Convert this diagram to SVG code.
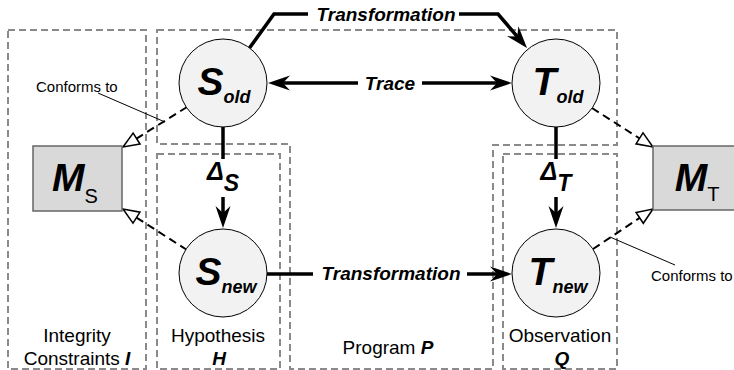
<svg xmlns="http://www.w3.org/2000/svg" width="734" height="370" viewBox="0 0 734 370">
<style>
.zone{fill:none;stroke:#8a8a8a;stroke-width:2;stroke-dasharray:7 4}
.node{fill:#f2f2f2;stroke:#000;stroke-width:1}
.meta{fill:#d9d9d9;stroke:#666;stroke-width:1.5}
.flow{fill:none;stroke:#000;stroke-width:3.5}
.conf{fill:none;stroke:#000;stroke-width:2;stroke-dasharray:8 5}
.call{fill:none;stroke:#000;stroke-width:1}
.lbg{fill:#fff;stroke:none}
text{font-family:"Liberation Sans",Arial,sans-serif;fill:#000}
.bi{font-weight:bold;font-style:italic}
.lab{font-size:19px}
.small{font-size:15px}
</style>
<defs>
<marker id="head" markerUnits="userSpaceOnUse" viewBox="0 0 22 16" refX="16" refY="8" markerWidth="22" markerHeight="16" orient="auto-start-reverse">
<path d="M0,0.5 L22,8 L0,15.5 L7,8 z" fill="#000"/>
</marker>
<marker id="tri" markerUnits="userSpaceOnUse" viewBox="0 0 19 16" refX="17.5" refY="8" markerWidth="19" markerHeight="16" orient="auto">
<path d="M1.5,1.5 L17.5,8 L1.5,14.5 z" fill="#fff" stroke="#000" stroke-width="1.5"/>
</marker>
</defs>
<g id="zones">
<rect class="zone" x="8" y="30" width="138" height="339"/>
<path class="zone" d="M157,30 H617 V145 H493 V369 H290 V144 H157 Z"/>
<rect class="zone" x="157" y="154" width="123" height="215"/>
<rect class="zone" x="503" y="154" width="114" height="215"/>
</g>
<g id="connectors">
<path class="flow" d="M248,50 L274,14 L498,14 L523.1,43.4" marker-end="url(#head)"/>
<rect class="lbg" x="308" y="3" width="151" height="23"/>
<text class="bi lab" x="386" y="21" text-anchor="middle">Transformation</text>
<path class="flow" d="M274,83 H506" marker-start="url(#head)" marker-end="url(#head)"/>
<rect class="lbg" x="358" y="72" width="64" height="23"/>
<text class="bi lab" x="390" y="90" text-anchor="middle">Trace</text>
<path class="flow" d="M223,127 V222" marker-end="url(#head)"/>
<rect class="lbg" x="200" y="159" width="46" height="38"/>
<text class="bi" x="223" y="180" text-anchor="middle" font-size="25">Δ<tspan dy="11" font-size="23">S</tspan></text>
<path class="flow" d="M556,127 V222" marker-end="url(#head)"/>
<rect class="lbg" x="533" y="159" width="46" height="38"/>
<text class="bi" x="556" y="180" text-anchor="middle" font-size="25">Δ<tspan dy="11" font-size="23">T</tspan></text>
<path class="flow" d="M267,274 H506" marker-end="url(#head)"/>
<rect class="lbg" x="313" y="262" width="154" height="24"/>
<text class="bi lab" x="391" y="280" text-anchor="middle">Transformation</text>
<path class="conf" d="M187,107 L123,147" marker-end="url(#tri)"/>
<path class="conf" d="M187,250 L123,209" marker-end="url(#tri)"/>
<path class="conf" d="M592,108 L653,147" marker-end="url(#tri)"/>
<path class="conf" d="M593,249 L653,209" marker-end="url(#tri)"/>
<path class="call" d="M98,93 L165,122"/>
<text class="small" x="36" y="92">Conforms to</text>
<path class="call" d="M610,237 L675,265"/>
<text class="small" x="651" y="281">Conforms to</text>
</g>
<g id="S_old">
<circle class="node" cx="223" cy="83" r="44"/>
<text class="bi" x="224" y="95" text-anchor="middle" font-size="39">S<tspan dy="8" font-size="18">old</tspan></text>
</g>
<g id="T_old">
<circle class="node" cx="556" cy="83" r="44"/>
<text class="bi" x="558" y="95" text-anchor="middle" font-size="39">T<tspan dy="8" font-size="18">old</tspan></text>
</g>
<g id="S_new">
<circle class="node" cx="223" cy="273" r="44"/>
<text class="bi" x="226" y="285" text-anchor="middle" font-size="39">S<tspan dy="8" font-size="18">new</tspan></text>
</g>
<g id="T_new">
<circle class="node" cx="556" cy="273" r="44"/>
<text class="bi" x="558" y="285" text-anchor="middle" font-size="39">T<tspan dy="8" font-size="18">new</tspan></text>
</g>
<g id="M_S">
<rect class="meta" x="33" y="146" width="89" height="65"/>
<text x="75" y="191" text-anchor="middle"><tspan class="bi" font-size="39">M</tspan><tspan dy="12" font-size="20">S</tspan></text>
</g>
<g id="M_T">
<rect class="meta" x="653" y="146" width="89" height="64"/>
<text x="697" y="191" text-anchor="middle"><tspan class="bi" font-size="39">M</tspan><tspan dy="10" font-size="20">T</tspan></text>
</g>
<g id="labels">
<text class="lab" x="77" y="342" text-anchor="middle">Integrity</text>
<text class="lab" x="77" y="365" text-anchor="middle">Constraints <tspan class="bi">I</tspan></text>
<text class="lab" x="218" y="342" text-anchor="middle">Hypothesis</text>
<text class="lab bi" x="219" y="365" text-anchor="middle">H</text>
<text class="lab" x="388" y="354" text-anchor="middle">Program <tspan class="bi">P</tspan></text>
<text class="lab" x="560" y="342" text-anchor="middle">Observation</text>
<text class="lab bi" x="562" y="365" text-anchor="middle">Q</text>
</g>
</svg>
